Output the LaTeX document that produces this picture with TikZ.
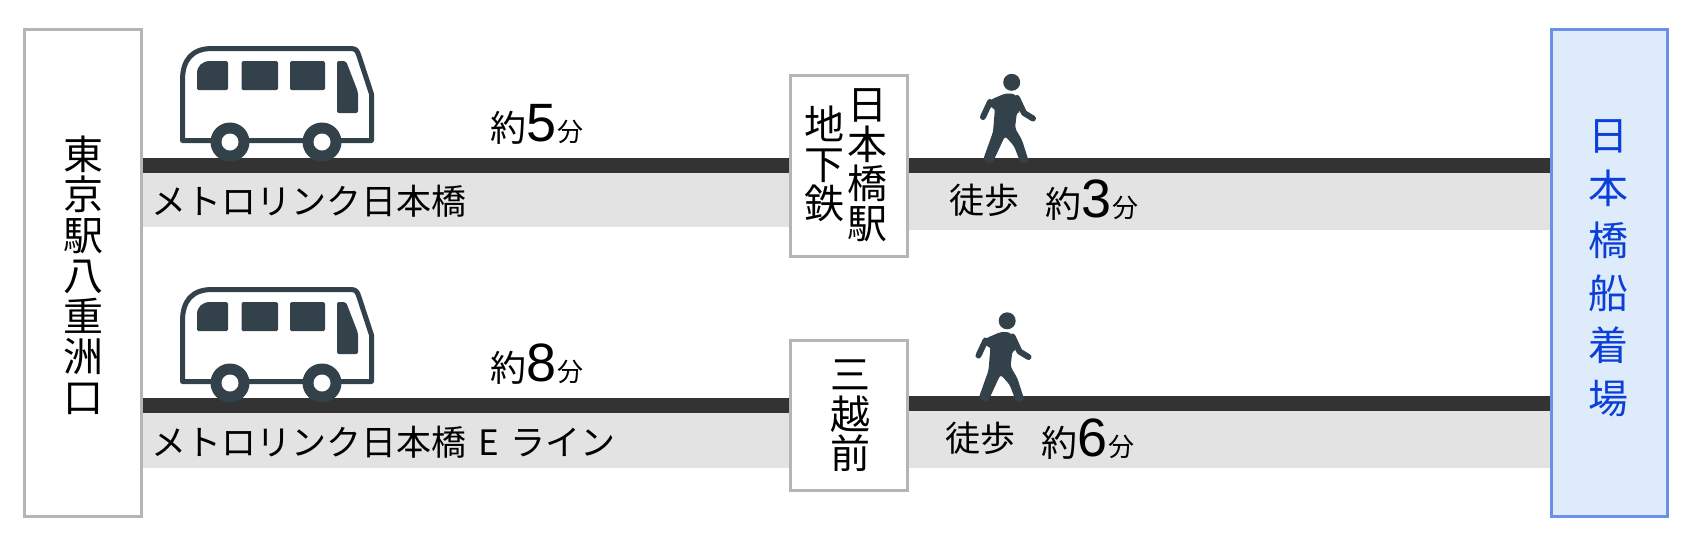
\documentclass[tikz,border=0pt]{standalone}
\usepackage{fontspec}
\setmainfont{Liberation Sans}
\newfontfamily\cjk{Noto Sans CJK JP}
\definecolor{barc}{HTML}{333333}
\definecolor{bandc}{HTML}{E3E3E3}
\definecolor{edgec}{HTML}{B5B5B5}
\definecolor{iconc}{HTML}{33414A}
\definecolor{boatfill}{HTML}{DDEBFA}
\definecolor{boatedge}{HTML}{6A90E8}
\definecolor{boattext}{HTML}{0B3FD9}
\newcommand{\mins}[1]{{\cjk\fontsize{36}{36}\selectfont 約}\hspace{0pt}{\fontsize{54}{54}\selectfont #1}\hspace{1pt}{\cjk\fontsize{26}{26}\selectfont 分}}
\tikzset{
  stationbox/.style={draw=edgec,fill=white,line width=3pt,inner sep=0pt,outer sep=0pt},
  boatbox/.style={draw=boatedge,fill=boatfill,line width=3pt,inner sep=0pt,outer sep=0pt},
  stack/.style={inner sep=0pt,align=center,font=\cjk\fontsize{40}{39.5}\selectfont},
  tallstack/.style={inner sep=0pt,align=center,font=\cjk\fontsize{40}{40.5}\selectfont},
  boatstack/.style={inner sep=0pt,align=center,text=boattext,font=\cjk\fontsize{40}{52.5}\selectfont},
  routetext/.style={inner sep=0pt,anchor=west,font=\cjk\fontsize{35}{35}\selectfont},
  walktext/.style={inner sep=0pt,anchor=west,font=\cjk\fontsize{35}{35}\selectfont},
  timetext/.style={inner sep=0pt,anchor=base west},
  rail/.style={draw=barc,line width=15pt},
  band/.style={fill=bandc},
  buspic/.pic={
    \draw[iconc,line width=5pt,fill=white,line join=round]
      (182.5,140.5) -- (182.5,80) .. controls (182.5,60) and (192,48.5) .. (212,48.5) -- (350,48.5)
      .. controls (356,48.5) and (357,50) .. (359,56) -- (371.5,94) -- (371.5,140.5) -- cycle;
    \fill[iconc,rounded corners=1.5pt] (197,90) -- (197,75) .. controls (197,66) and (202,61) .. (212,61) -- (228,61) -- (228,90) -- cycle;
    \fill[iconc,rounded corners=1.5pt] (241.5,61) rectangle (278,90);
    \fill[iconc,rounded corners=1.5pt] (290,61) rectangle (325,90);
    \fill[iconc,rounded corners=2pt] (337,61) -- (346,61) -- (358,92) -- (358,113) -- (337,113) -- cycle;
    \foreach \wx in {230,322}{
      \fill[iconc] (\wx,142) circle[radius=19.5];
      \fill[white] (\wx,142) circle[radius=8.5];
    }
  },
  walkerpic/.pic={
    \fill[iconc] (1011.7,82.3) circle[radius=8.5];
    \fill[iconc,rounded corners=3pt] (990,100) -- (1005,93.5) -- (1014,93.5) -- (1019,100) -- (1021,112)
      -- (1017,112) -- (1015,128) -- (1022,140) -- (1029,162) -- (1021,164) -- (1014,146) -- (1005,136)
      -- (992,164) -- (983,160) -- (993,132) -- (995,108) -- (990,108) -- cycle;
    \draw[iconc,line width=6pt,line cap=round,line join=round] (990,102) -- (983,117);
    \draw[iconc,line width=6pt,line cap=round,line join=round] (1017,98) -- (1024,113) -- (1033,118.5);
  }
}
\begin{document}
\begin{tikzpicture}[x=1pt,y=-1pt]
\useasboundingbox (0,0) rectangle (1700,547);
\fill[white] (0,0) rectangle (1700,547);
% bands
\fill[band] (142,172) rectangle (789,227);
\fill[band] (908,172) rectangle (1550,230);
\fill[band] (142,412) rectangle (789,468);
\fill[band] (908,410) rectangle (1550,468);
% nodes
\node[stationbox,minimum width=117,minimum height=487] (tokyo) at (82.5,272.5) {};
\node[stationbox,minimum width=117,minimum height=181] (nihon) at (848.5,166) {};
\node[stationbox,minimum width=117,minimum height=150] (mitsu) at (848.5,415.5) {};
\node[boatbox,minimum width=116,minimum height=487] (boat) at (1609,272.5) {};
% rails
\draw[rail] (tokyo.east |- 0,165) -- (nihon.west |- 0,165);
\draw[rail] (nihon.east |- 0,165) -- (boat.west |- 0,165);
\draw[rail] (tokyo.east |- 0,405) -- (mitsu.west |- 0,405);
\draw[rail] (mitsu.east |- 0,403) -- (boat.west |- 0,403);
% box edges over rail ends
\draw[edgec,line width=3pt] (tokyo.north east) -- (tokyo.south east);
\draw[edgec,line width=3pt] (nihon.north west) -- (nihon.south west);
\draw[edgec,line width=3pt] (nihon.north east) -- (nihon.south east);
\draw[edgec,line width=3pt] (mitsu.north west) -- (mitsu.south west);
\draw[edgec,line width=3pt] (mitsu.north east) -- (mitsu.south east);
\draw[boatedge,line width=3pt] (boat.north west) -- (boat.south west);
% icons
\pic {buspic};
\pic at (0,241) {buspic};
\pic {walkerpic};
\pic at (-4.5,238.5) {walkerpic};
% station text
\node[tallstack] (tokyot) at (83,275) {東\\京\\駅\\八\\重\\洲\\口};
\node[stack] (nihont) at (867,165) {日\\本\\橋\\駅};
\node[stack] (subwayt) at (824.5,164) {地\\下\\鉄};
\node[stack] (mitsut) at (850,416) {三\\越\\前};
\node[boatstack] (boatt) at (1608,268) {日\\本\\橋\\船\\着\\場};
% labels
\node[routetext] (r1) at (151,201) {メトロリンク日本橋};
\node[routetext] (r2) at (151,442) {メトロリンク日本橋\hspace{4pt} E \hspace{4pt}ライン};
\node[timetext] (t1) at (490,141) {\mins{5}};
\node[timetext] (t2) at (490,381) {\mins{8}};
\node[walktext] (w1) at (949,200) {徒歩};
\node[walktext] (w2) at (945,438) {徒歩};
\node[timetext] (t3) at (1045,217) {\mins{3}};
\node[timetext] (t4) at (1041,456) {\mins{6}};
\end{tikzpicture}
\end{document}
